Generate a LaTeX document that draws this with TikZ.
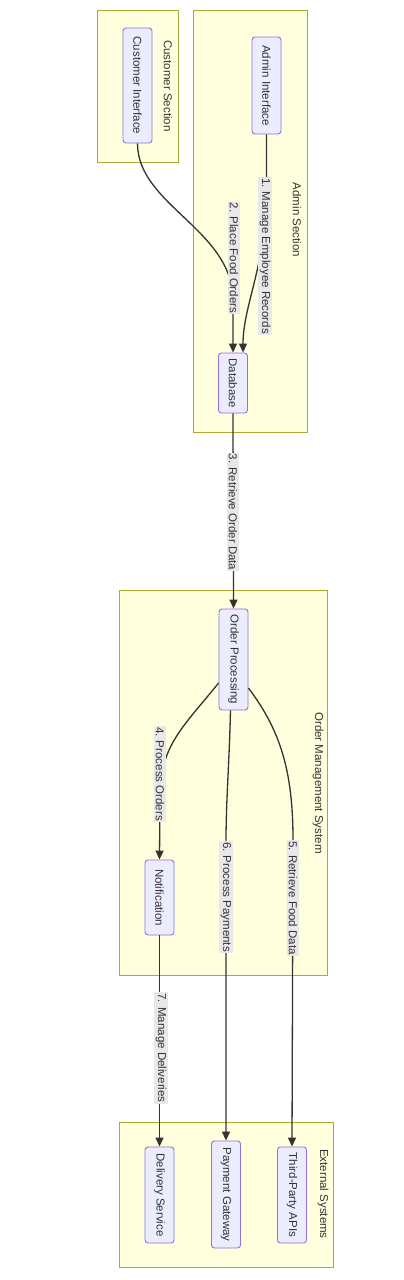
\documentclass[tikz,border=0pt]{standalone}
\usepackage{fontspec}
\setmainfont{Liberation Sans}
\usepackage{graphicx}
\usetikzlibrary{arrows.meta,calc}
\definecolor{clfill}{HTML}{FFFFDE}
\definecolor{clline}{HTML}{AAAA33}
\definecolor{ndfill}{HTML}{ECECFF}
\definecolor{ndline}{HTML}{9370DB}
\definecolor{edgec}{HTML}{333333}
\definecolor{lblbg}{HTML}{E8E8E8}
\begin{document}
\begin{tikzpicture}[x=1pt,y=-1pt,font=\fontsize{11.5}{13}\selectfont,
  cluster/.style={draw=clline,fill=clfill,line width=0.9pt},
  box/.style={draw=ndline,fill=ndfill,rounded corners=3pt,line width=0.9pt,minimum width=29pt,inner sep=0pt,text=edgec},
  lbl/.style={fill=lblbg,inner xsep=1pt,inner ysep=1.5pt,text=edgec,rotate=-90},
  ttl/.style={text=edgec,rotate=-90,inner sep=0pt},
  conn/.style={draw=edgec,line width=1.3pt,-{Triangle[length=9pt,width=8pt]}}]
\useasboundingbox (0,0) rectangle (404,1280);
\fill[white] (0,0) rectangle (404,1280);
% clusters
\path[cluster] (97,10) rectangle (178,162);
\path[cluster] (193,10) rectangle (307,432);
\path[cluster] (119,590) rectangle (327,975);
\path[cluster] (119,1122) rectangle (333,1267);
\node[ttl] (tcust) at (168,86) {Customer Section};
\node[ttl] (tadmin) at (297,220) {Admin Section};
\node[ttl] (toms) at (318,783) {Order Management System};
\node[ttl] (text) at (323,1194) {External Systems};
% nodes
\node[box,minimum height=115pt] (cust) at (137.5,85.5) {\rotatebox{-90}{Customer Interface}};
\node[box,minimum height=97pt] (admin) at (266.5,85.5) {\rotatebox{-90}{Admin Interface}};
\node[box,minimum height=60pt] (db) at (233,383) {\rotatebox{-90}{Database}};
\node[box,minimum height=101pt] (op) at (233.5,659.5) {\rotatebox{-90}{Order Processing}};
\node[box,minimum height=75pt] (notif) at (159.5,897.5) {\rotatebox{-90}{Notification}};
\node[box,minimum height=96pt] (deliv) at (159.5,1195) {\rotatebox{-90}{Delivery Service}};
\node[box,minimum height=107pt] (pay) at (226,1194.5) {\rotatebox{-90}{Payment Gateway}};
\node[box,minimum height=96pt] (tpa) at (292,1195) {\rotatebox{-90}{Third-Party APIs}};
% connectors
\draw[conn] (admin.south) -- (266.5,190) .. controls (266.5,265) and (243,305) .. ($(db.north)+(10,0)$);
\draw[conn] (cust.south) .. controls (137.5,205) and (233,230) .. (233,300) -- (db.north);
\draw[conn] (db.south) -- (op.north);
\draw[conn] ($(op.west)+(0,23.5)$) .. controls (185,725) and (160,745) .. (160,795) -- (notif.north);
\draw[conn] ($(op.east)+(0,28.5)$) .. controls (280,730) and (293,770) .. (293,840) -- (tpa.north);
\draw[conn] ($(op.south)+(-3,0)$) .. controls (229,770) and (226,800) .. (226,843) -- (pay.north);
\draw[conn] (notif.south) -- (deliv.north);
% labels
\node[lbl] (l1) at (265,256) {1. Manage Employee Records};
\node[lbl] (l2) at (234,258) {2. Place Food Orders};
\node[lbl] (l3) at (233,512) {3. Retrieve Order Data};
\node[lbl] (l4) at (160,774) {4. Process Orders};
\node[lbl] (l5) at (293,898) {5. Retrieve Food Data};
\node[lbl] (l6) at (226,897) {6. Process Payments};
\node[lbl] (l7) at (161,1048) {7. Manage Deliveries};
\end{tikzpicture}
\end{document}
